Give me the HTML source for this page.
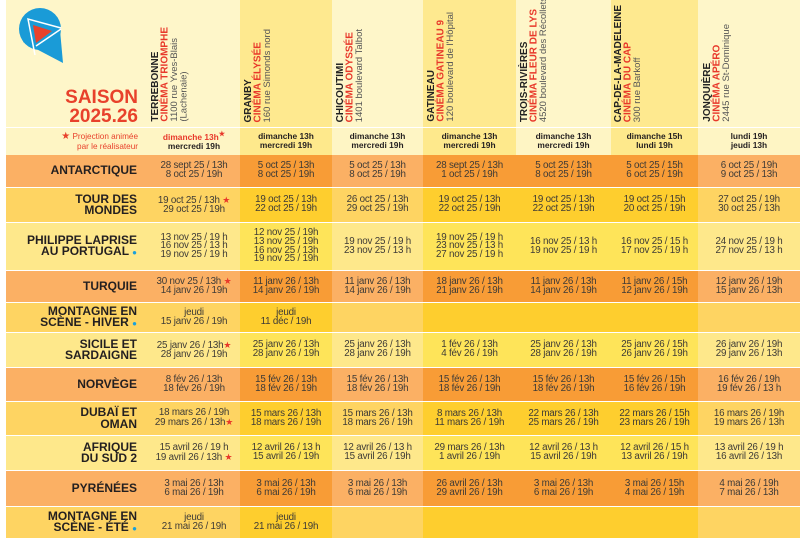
<!DOCTYPE html>
<html><head><meta charset="utf-8"><style>
*{margin:0;padding:0;box-sizing:border-box}
body{width:800px;height:542px;background:#fff;position:relative;overflow:hidden;font-family:"Liberation Sans",sans-serif;color:#3d3a36}
.a{position:absolute}
.vh{position:absolute;bottom:420px;writing-mode:vertical-rl;transform:rotate(180deg);font-size:9.5px;line-height:9.5px;white-space:nowrap;color:#555}
.vh b{color:#222;font-size:10px}
.vh i{font-style:normal;font-weight:bold;color:#e8382a;font-size:10px}
.cell{position:absolute;display:flex;align-items:center;justify-content:center;text-align:center;font-size:9.8px;line-height:8.6px;letter-spacing:-0.2px;color:#3d3a36}
.lab{position:absolute;left:6px;width:131px;display:flex;align-items:center;justify-content:flex-end;text-align:right;font-weight:bold;font-size:12px;line-height:11.5px;color:#231f20}
.st{color:#e8382a;font-size:9px}
.bl{color:#1aa0dc;font-size:8px}
.day{position:absolute;top:130px;height:22px;display:flex;align-items:center;justify-content:center;text-align:center;font-weight:bold;font-size:8.4px;line-height:9px;color:#231f20}
</style></head><body>
<svg class="a" style="left:0;top:0" width="800" height="542">
<rect x="6" y="0" width="794" height="127" fill="#fef6c9"/>
<rect x="240" y="0" width="92" height="127" fill="#fee98f"/>
<rect x="423" y="0" width="93" height="127" fill="#fee98f"/>
<rect x="611" y="0" width="87" height="127" fill="#fee98f"/>
<rect x="6" y="128" width="794" height="27" fill="#fef5c4"/>
<rect x="240" y="128" width="92" height="27" fill="#fee98c"/>
<rect x="423" y="128" width="93" height="27" fill="#fee98c"/>
<rect x="611" y="128" width="87" height="27" fill="#fee98c"/>
<circle cx="40" cy="29" r="21" fill="#1a9bd7"/>
<polygon points="23,42 63,63 60,30 48,12" fill="#1a9bd7"/>
<polyline points="35,55 28,19 61,28" fill="none" stroke="#fff" stroke-width="1.5"/>
<line x1="36" y1="46" x2="61" y2="29" stroke="#fff" stroke-width="1.5"/>
<polygon points="33,25 52,31 36,43" fill="#e8412b"/>
</svg>
<div id="rows"></div>
<div class="a" style="left:60px;top:88px;width:78px;text-align:right;color:#e8412b;font-weight:bold;font-size:19px;line-height:19px">SAISON<br>2025.26</div>
<div class="a" style="left:40px;top:132px;width:98px;text-align:right;color:#e8412b;font-size:8.2px;line-height:10px"><span style="font-size:10px">★</span> Projection animée<br>par le réalisateur</div>

<div class="vh" style="left:151px"><b>TERREBONNE</b><br><i>CINÉMA TRIOMPHE</i><br>1100 rue Yves-Blais<br>(Lachenaie)</div>
<div class="vh" style="left:244px"><b>GRANBY</b><br><i>CINÉMA ÉLYSÉE</i><br>160 rue Simonds nord</div>
<div class="vh" style="left:336px"><b>CHICOUTIMI</b><br><i>CINÉMA ODYSSÉE</i><br>1401 boulevard Talbot</div>
<div class="vh" style="left:427px"><b>GATINEAU</b><br><i>CINÉMA GATINEAU 9</i><br>120 boulevard de l'Hôpital</div>
<div class="vh" style="left:520px"><b>TROIS-RIVIÈRES</b><br><i>CINÉMA FLEUR DE LYS</i><br>4520 boulevard des Récollets</div>
<div class="vh" style="left:614px"><b>CAP-DE-LA-MADELEINE</b><br><i>CINÉMA DU CAP</i><br>300 rue Barkoff</div>
<div class="vh" style="left:703px"><b>JONQUIÈRE</b><br><i>CINÉMA APÉRO</i><br>2445 rue St-Dominique</div>

<div class="day" style="left:148px;width:92px"><span><span style="color:#e8382a">dimanche 13h<sup style="font-size:7px">★</sup></span><br>mercredi 19h</span></div>
<div class="day" style="left:240px;width:92px"><span>dimanche 13h<br>mercredi 19h</span></div>
<div class="day" style="left:332px;width:91px"><span>dimanche 13h<br>mercredi 19h</span></div>
<div class="day" style="left:423px;width:93px"><span>dimanche 13h<br>mercredi 19h</span></div>
<div class="day" style="left:516px;width:95px"><span>dimanche 13h<br>mercredi 19h</span></div>
<div class="day" style="left:611px;width:87px"><span>dimanche 15h<br>lundi 19h</span></div>
<div class="day" style="left:698px;width:102px"><span>lundi 19h<br>jeudi 13h</span></div>

<script>
const cols=[[148,240],[240,332],[332,423],[423,516],[516,611],[611,698],[698,800]];
const dark=[false,true,false,true,true,true,false];
const pal={o:['#fbb064','#f89c36'],m:['#fed462','#fece2e'],l:['#fee88b','#fee459']};
const S='<span class="st">★</span>',B=' <span class="bl">●</span>';
const rows=[
[155,187,'o','ANTARCTIQUE',['28 sept 25 / 13h<br>8 oct 25 / 19h','5 oct 25 / 13h<br>8 oct 25 / 19h','5 oct 25 / 13h<br>8 oct 25 / 19h','28 sept 25 / 13h<br>1 oct 25 / 19h','5 oct 25 / 13h<br>8 oct 25 / 19h','5 oct 25 / 15h<br>6 oct 25 / 19h','6 oct 25 / 19h<br>9 oct 25 / 13h']],
[188,222,'m','TOUR DES<br>MONDES',['19 oct 25 / 13h '+S+'<br>29 oct 25 / 19h','19 oct 25 / 13h<br>22 oct 25 / 19h','26 oct 25 / 13h<br>29 oct 25 / 19h','19 oct 25 / 13h<br>22 oct 25 / 19h','19 oct 25 / 13h<br>22 oct 25 / 19h','19 oct 25 / 15h<br>20 oct 25 / 19h','27 oct 25 / 19h<br>30 oct 25 / 13h']],
[223,270,'l','PHILIPPE LAPRISE<br>AU PORTUGAL'+B,['13 nov 25 / 19 h<br>16 nov 25 / 13 h<br>19 nov 25 / 19 h','12 nov 25 / 19h<br>13 nov 25 / 19h<br>16 nov 25 / 13h<br>19 nov 25 / 19h','19 nov 25 / 19 h<br>23 nov 25 / 13 h','19 nov 25 / 19 h<br>23 nov 25 / 13 h<br>27 nov 25 / 19 h','16 nov 25 / 13 h<br>19 nov 25 / 19 h','16 nov 25 / 15 h<br>17 nov 25 / 19 h','24 nov 25 / 19 h<br>27 nov 25 / 13 h']],
[271,302,'o','TURQUIE',['30 nov 25 / 13h '+S+'<br>14 janv 26 / 19h','11 janv 26 / 13h<br>14 janv 26 / 19h','11 janv 26 / 13h<br>14 janv 26 / 19h','18 janv 26 / 13h<br>21 janv 26 / 19h','11 janv 26 / 13h<br>14 janv 26 / 19h','11 janv 26 / 15h<br>12 janv 26 / 19h','12 janv 26 / 19h<br>15 janv 26 / 13h']],
[303,332,'m','MONTAGNE EN<br>SCÈNE - HIVER'+B,['jeudi<br>15 janv 26 / 19h','jeudi<br>11 déc / 19h','','','','','']],
[333,367,'l','SICILE ET<br>SARDAIGNE',['25 janv 26 / 13h'+S+'<br>28 janv 26 / 19h','25 janv 26 / 13h<br>28 janv 26 / 19h','25 janv 26 / 13h<br>28 janv 26 / 19h','1 fév 26 / 13h<br>4 fév 26 / 19h','25 janv 26 / 13h<br>28 janv 26 / 19h','25 janv 26 / 15h<br>26 janv 26 / 19h','26 janv 26 / 19h<br>29 janv 26 / 13h']],
[368,401,'o','NORVÈGE',['8 fév 26 / 13h<br>18 fév 26 / 19h','15 fév 26 / 13h<br>18 fév 26 / 19h','15 fév 26 / 13h<br>18 fév 26 / 19h','15 fév 26 / 13h<br>18 fév 26 / 19h','15 fév 26 / 13h<br>18 fév 26 / 19h','15 fév 26 / 15h<br>16 fév 26 / 19h','16 fév 26 / 19h<br>19 fév 26 / 13 h']],
[402,435,'m','DUBAÏ ET<br>OMAN',['18 mars 26 / 19h<br>29 mars 26 / 13h'+S,'15 mars 26 / 13h<br>18 mars 26 / 19h','15 mars 26 / 13h<br>18 mars 26 / 19h','8 mars 26 / 13h<br>11 mars 26 / 19h','22 mars 26 / 13h<br>25 mars 26 / 19h','22 mars 26 / 15h<br>23 mars 26 / 19h','16 mars 26 / 19h<br>19 mars 26 / 13h']],
[436,470,'l','AFRIQUE<br>DU SUD 2',['15 avril 26 / 19 h<br>19 avril 26 / 13h '+S,'12 avril 26 / 13 h<br>15 avril 26 / 19h','12 avril 26 / 13 h<br>15 avril 26 / 19h','29 mars 26 / 13h<br>1 avril 26 / 19h','12 avril 26 / 13 h<br>15 avril 26 / 19h','12 avril 26 / 15 h<br>13 avril 26 / 19h','13 avril 26 / 19 h<br>16 avril 26 / 13h']],
[471,506,'o','PYRÉNÉES',['3 mai 26 / 13h<br>6 mai 26 / 19h','3 mai 26 / 13h<br>6 mai 26 / 19h','3 mai 26 / 13h<br>6 mai 26 / 19h','26 avril 26 / 13h<br>29 avril 26 / 19h','3 mai 26 / 13h<br>6 mai 26 / 19h','3 mai 26 / 15h<br>4 mai 26 / 19h','4 mai 26 / 19h<br>7 mai 26 / 13h']],
[507,538,'m','MONTAGNE EN<br>SCÈNE - ÉTÉ'+B,['jeudi<br>21 mai 26 / 19h','jeudi<br>21 mai 26 / 19h','','','','','']]
];
let h='';
for(const [t,b,c,lab,cells] of rows){
 const ht=b-t;
 h+=`<div class="a" style="left:6px;top:${t}px;width:142px;height:${ht}px;background:${pal[c][0]}"></div>`;
 h+=`<div class="lab" style="top:${t}px;height:${ht}px"><span>${lab}</span></div>`;
 cols.forEach((x,i)=>{
  h+=`<div class="cell" style="left:${x[0]}px;top:${t}px;width:${x[1]-x[0]}px;height:${ht}px;background:${pal[c][dark[i]?1:0]}"><span>${cells[i]}</span></div>`;
 });
}
document.getElementById('rows').outerHTML=h;
</script>
</body></html>
